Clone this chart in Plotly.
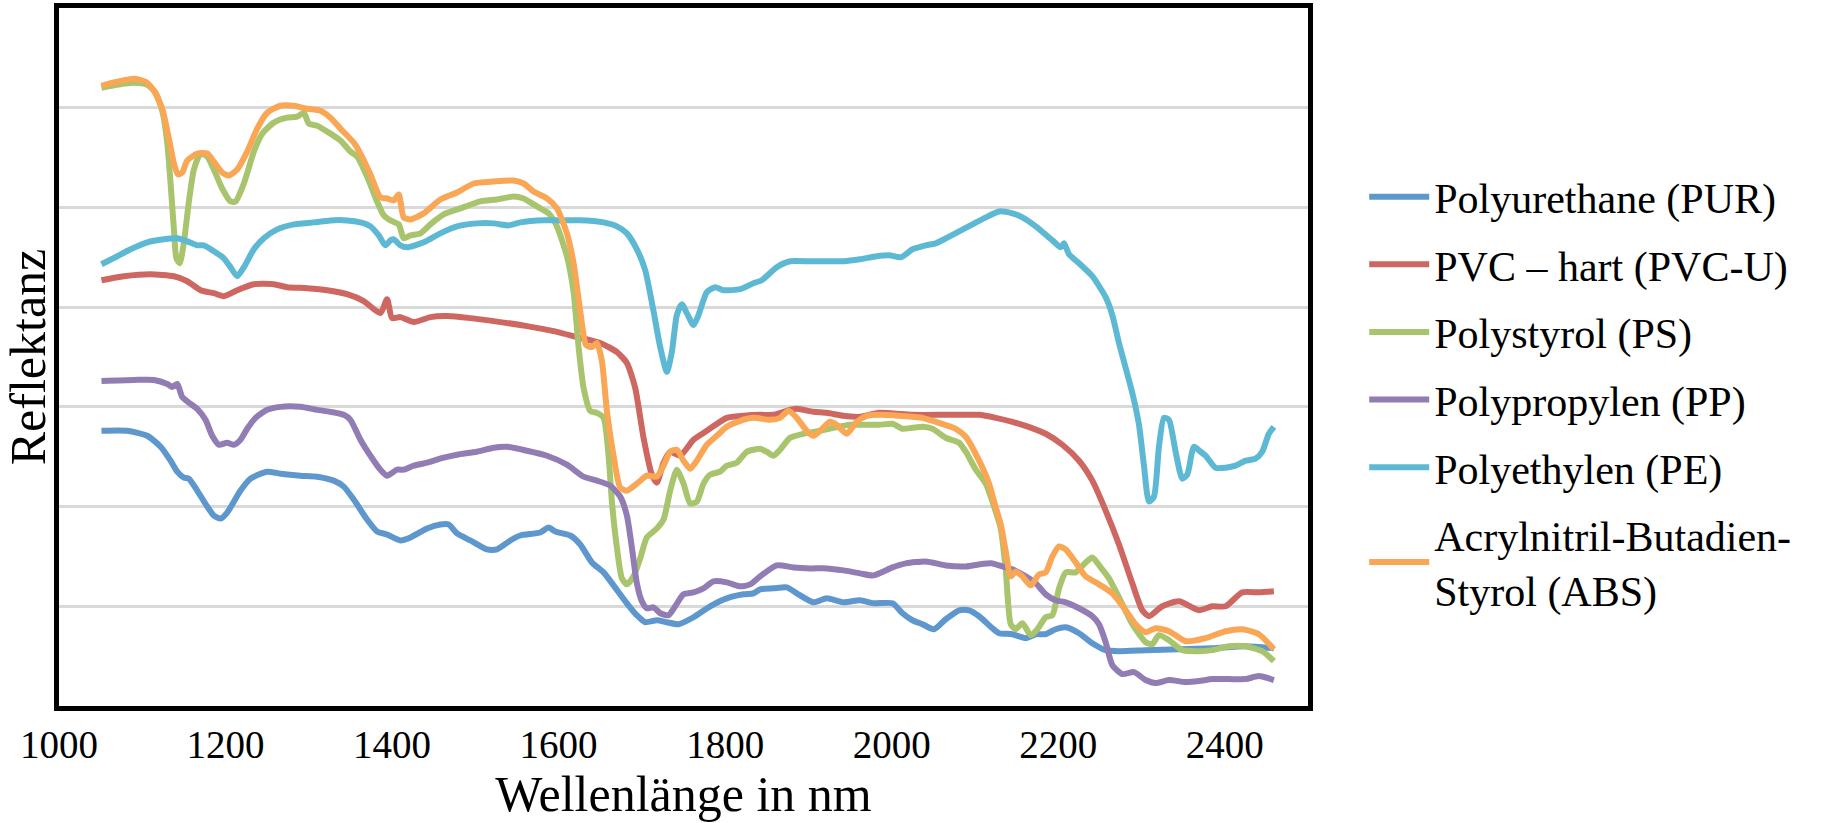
import plotly.graph_objects as go

# Wavelength (nm) and reflectance (relative units, gridline = 1)
pur_x = [1051,1082,1106,1122,1134,1142,1150,1156,1166,1178,1186,1194,1202,1218,1230,1250,1266,1290,1310,1330,1342,1354,1370,1382,1394,1410,1422,1442,1458,1468,1478,
         1494,1514,1526,1542,1554,1578,1588,1596,1614,1626,1640,1654,1666,1682,1694,1704,1718,1730,1744,1762,1782,1802,1822,1834,1842,1858,1874,1886,1906,1922,1942,1962,1978,
         2001,2013,2025,2037,2051,2065,2081,2093,2105,2121,2129,2145,2161,2173,2185,2197,2209,2225,2241,2257,2273,2305,2345,2385,2425,2459]
pur_y = [2.76,2.76,2.71,2.60,2.46,2.35,2.29,2.28,2.16,2.00,1.91,1.88,1.94,2.16,2.28,2.35,2.33,2.31,2.30,2.26,2.20,2.07,1.87,1.75,1.72,1.66,1.69,1.78,1.82,1.82,1.73,
         1.66,1.57,1.57,1.66,1.71,1.74,1.79,1.75,1.71,1.62,1.44,1.34,1.21,1.03,0.91,0.84,0.86,0.84,0.82,0.89,1.00,1.08,1.12,1.13,1.17,1.18,1.19,1.13,1.04,1.08,1.04,1.06,1.03,
         1.03,0.93,0.86,0.82,0.77,0.87,0.96,0.96,0.90,0.78,0.73,0.72,0.68,0.72,0.72,0.77,0.79,0.73,0.63,0.56,0.55,0.56,0.57,0.58,0.60,0.58]

pvc_x = [1051,1078,1110,1138,1154,1170,1186,1198,1214,1234,1258,1274,1298,1322,1346,1366,1386,1394,1400,1410,1426,1446,1466,1494,
         1522,1562,1594,1622,1650,1670,1682,1692,1702,1712,1718,1726,1734,1746,1762,1778,1802,1822,1842,1858,1874,1886,1906,1922,1942,1962,
         1985,2025,2065,2105,2125,2145,2161,2185,2205,2225,2241,2257,2273,2289,2301,2309,2325,2345,2369,2385,2401,2421,2441,2459]
pvc_y = [4.27,4.31,4.33,4.31,4.26,4.17,4.14,4.11,4.17,4.23,4.23,4.20,4.19,4.17,4.13,4.06,3.94,4.08,3.89,3.90,3.85,3.90,3.91,3.89,
         3.86,3.81,3.76,3.70,3.64,3.55,3.44,3.19,2.69,2.32,2.24,2.44,2.55,2.51,2.67,2.76,2.89,2.91,2.92,2.92,2.96,2.98,2.95,2.94,2.91,2.90,
         2.94,2.92,2.92,2.92,2.89,2.85,2.81,2.73,2.62,2.46,2.26,1.96,1.62,1.23,0.96,0.90,1.00,1.05,0.96,1.00,1.00,1.14,1.14,1.15]

ps_x = [1051,1070,1090,1106,1116,1124,1130,1134,1138,1141,1145,1150,1156,1162,1170,1178,1186,1196,1206,1212,1222,1234,1244,1258,1274,1286,1294,1300,1310,1326,1338,1350,1358,1370,1382,1390,1398,1408,1414,1422,1434,1446,1462,1482,
        1506,1526,1546,1558,1574,1588,1598,1610,1618,1624,1630,1638,1646,1654,1660,1664,1670,1676,1682,1690,1698,1706,1718,1726,1734,1742,1750,1758,1766,1774,1782,1794,1802,1814,1826,1834,1842,1850,1858,1866,1878,1894,1914,1930,1950,1970,
        1985,2001,2013,2025,2037,2049,2065,2081,2089,2101,2113,2123,2131,2137,2143,2149,2157,2167,2175,2185,2193,2201,2209,2221,2233,2241,2251,2261,2273,2289,2305,2313,2321,2333,2349,2369,2385,2405,2425,2445,2459]
ps_y = [6.20,6.23,6.25,6.23,6.15,5.97,5.65,5.24,4.78,4.49,4.44,4.65,5.06,5.38,5.54,5.51,5.38,5.19,5.06,5.06,5.24,5.56,5.74,5.85,5.90,5.91,5.95,5.84,5.82,5.74,5.67,5.56,5.51,5.31,5.06,4.92,4.87,4.83,4.69,4.72,4.74,4.83,4.93,4.99,
        5.06,5.08,5.11,5.09,5.01,4.94,4.81,4.51,4.15,3.60,3.19,2.96,2.94,2.89,2.51,2.05,1.59,1.28,1.22,1.30,1.48,1.69,1.78,1.87,2.16,2.37,2.23,2.03,2.05,2.23,2.32,2.35,2.41,2.44,2.55,2.57,2.58,2.55,2.51,2.57,2.69,2.73,2.76,2.79,2.82,2.82,
        2.82,2.83,2.78,2.79,2.80,2.78,2.69,2.64,2.55,2.37,2.23,2.00,1.78,1.37,0.82,0.77,0.83,0.71,0.77,0.89,0.91,1.18,1.34,1.34,1.44,1.49,1.39,1.28,1.09,0.82,0.64,0.62,0.71,0.66,0.56,0.55,0.56,0.60,0.60,0.55,0.45]

pp_x = [1051,1090,1114,1130,1136,1142,1148,1158,1166,1176,1184,1192,1202,1210,1218,1226,1236,1250,1266,1290,1310,1326,1342,1350,1362,1374,1386,1394,1406,1414,1426,1442,1462,1478,
        1502,1522,1538,1562,1586,1610,1630,1646,1662,1674,1682,1688,1694,1700,1706,1714,1722,1732,1740,1750,1762,1774,1786,1802,1818,1830,1842,1862,1882,1902,1922,1942,1962,1978,
        2001,2017,2041,2065,2089,2105,2121,2133,2145,2161,2173,2185,2197,2209,2225,2241,2249,2257,2265,2277,2291,2305,2317,2333,2353,2369,2385,2405,2425,2441,2459]
pp_y = [3.26,3.27,3.27,3.23,3.20,3.23,3.10,3.03,2.98,2.87,2.71,2.62,2.64,2.62,2.67,2.78,2.89,2.97,3.00,3.00,2.97,2.95,2.92,2.87,2.67,2.51,2.37,2.31,2.37,2.37,2.41,2.44,2.49,2.52,
        2.55,2.59,2.60,2.56,2.51,2.42,2.30,2.26,2.21,2.10,1.91,1.59,1.23,1.05,0.98,0.99,0.93,0.91,1.00,1.12,1.14,1.18,1.25,1.24,1.20,1.22,1.30,1.41,1.39,1.38,1.38,1.36,1.33,1.31,
        1.39,1.43,1.45,1.41,1.40,1.42,1.43,1.40,1.37,1.30,1.23,1.12,1.06,1.04,0.98,0.90,0.82,0.64,0.41,0.32,0.34,0.26,0.23,0.26,0.24,0.25,0.27,0.27,0.27,0.30,0.26]

pe_x = [1051,1070,1086,1106,1126,1142,1154,1166,1174,1186,1198,1206,1214,1222,1234,1246,1262,1282,1306,1326,1346,1362,1374,1384,1392,1398,1402,1410,1418,1438,1458,1478,
        1502,1522,1540,1554,1574,1602,1634,1654,1670,1682,1694,1704,1714,1722,1730,1736,1742,1748,1754,1762,1768,1778,1788,1798,1818,1834,1844,1862,1878,1902,1922,1942,1962,1982,
        1997,2011,2025,2041,2053,2065,2081,2097,2113,2129,2145,2157,2173,2193,2203,2207,2213,2225,2241,2257,2265,2273,2289,2297,2303,2309,2315,2321,2327,2333,2341,2349,2355,2363,2371,2377,2389,2401,2413,2425,2437,2445,2453,2459]
pe_y = [4.43,4.51,4.58,4.65,4.68,4.69,4.66,4.62,4.62,4.56,4.49,4.40,4.31,4.40,4.58,4.69,4.78,4.83,4.85,4.87,4.87,4.85,4.81,4.72,4.62,4.67,4.68,4.62,4.60,4.65,4.74,4.81,
        4.84,4.84,4.82,4.85,4.87,4.87,4.87,4.85,4.81,4.74,4.58,4.37,3.96,3.60,3.35,3.55,3.92,4.03,3.94,3.82,3.92,4.15,4.20,4.17,4.18,4.24,4.27,4.40,4.46,4.46,4.46,4.46,4.48,4.51,
        4.52,4.50,4.58,4.62,4.64,4.69,4.76,4.83,4.90,4.96,4.94,4.90,4.81,4.67,4.60,4.64,4.53,4.44,4.31,4.10,3.92,3.64,3.14,2.82,2.41,2.05,2.10,2.60,2.89,2.87,2.55,2.28,2.32,2.60,2.55,2.51,2.39,2.39,2.41,2.46,2.48,2.55,2.73,2.80]

abs_x = [1051,1070,1090,1104,1114,1124,1132,1138,1143,1148,1154,1166,1178,1186,1196,1204,1214,1226,1238,1250,1266,1282,1298,1314,1326,1338,1354,1362,1374,1386,1394,1402,1408,1414,1422,1438,1458,1478,
         1498,1522,1546,1558,1570,1586,1598,1610,1618,1626,1633,1640,1646,1652,1658,1666,1674,1682,1694,1706,1718,1726,1734,1742,1750,1758,1766,1778,1790,1802,1818,1834,1854,1866,1876,1886,1898,1906,1914,1926,1934,1946,1958,1970,1986,
         2009,2037,2053,2077,2089,2105,2117,2123,2131,2137,2143,2149,2157,2167,2177,2185,2193,2201,2209,2221,2233,2249,2265,2281,2293,2305,2317,2333,2353,2377,2401,2421,2441,2459]
abs_y = [6.22,6.26,6.29,6.26,6.17,5.99,5.69,5.44,5.33,5.35,5.47,5.54,5.54,5.46,5.35,5.32,5.38,5.56,5.79,5.95,6.02,6.02,5.99,5.97,5.90,5.79,5.65,5.54,5.33,5.10,5.09,5.07,5.13,4.90,4.88,4.94,5.08,5.15,
         5.24,5.26,5.27,5.24,5.16,5.09,4.99,4.74,4.44,3.96,3.62,3.60,3.64,3.46,2.96,2.51,2.19,2.16,2.23,2.31,2.30,2.41,2.55,2.57,2.46,2.38,2.46,2.62,2.71,2.80,2.86,2.89,2.87,2.89,2.96,2.89,2.76,2.71,2.76,2.85,2.82,2.73,2.85,2.91,2.92,
         2.91,2.89,2.85,2.78,2.70,2.46,2.23,2.05,1.82,1.55,1.30,1.35,1.30,1.21,1.32,1.34,1.50,1.60,1.57,1.44,1.30,1.22,1.13,0.96,0.82,0.74,0.78,0.75,0.65,0.68,0.75,0.77,0.72,0.57]

series_names = ["Polyurethane (PUR)", "PVC \u2013 hart (PVC-U)", "Polystyrol (PS)",
                "Polypropylen (PP)", "Polyethylen (PE)", "Acrylnitril-Butadien-<br>Styrol (ABS)"]
series_x = [pur_x, pvc_x, ps_x, pp_x, pe_x, abs_x]
series_y = [pur_y, pvc_y, ps_y, pp_y, pe_y, abs_y]
colors = ["#5E97CE", "#CE6761", "#A8C46D", "#927CB4", "#5DB9D3", "#F9A655"]

x_ticks = [1000, 1200, 1400, 1600, 1800, 2000, 2200, 2400]

fig = go.Figure()
for i, (name, xs, ys, c) in enumerate(zip(series_names, series_x, series_y, colors)):
    fig.add_trace(go.Scatter(x=xs, y=ys, mode="lines", name=name, legendgroup=f"g{i}",
                             line=dict(color=c, width=6, shape="spline", smoothing=0.6)))

FONT = "Liberation Serif"
fig.update_layout(
    width=1833, height=823,
    margin=dict(l=59, r=525, t=8, b=117),
    paper_bgcolor="white", plot_bgcolor="white",
    font=dict(family=FONT, color="black"),
    showlegend=True,
    legend=dict(x=1.045, y=0.778, xanchor="left", yanchor="top",
                font=dict(size=42, family=FONT, color="black"),
                tracegroupgap=10, itemwidth=60, bgcolor="rgba(0,0,0,0)"),
    xaxis=dict(range=[1000, 2500], tickvals=x_ticks, ticktext=[str(v) for v in x_ticks],
               showgrid=False, zeroline=False, ticks="", showline=True, linecolor="black",
               linewidth=5, mirror=True, tickfont=dict(size=39, family=FONT, color="black"),
               title=dict(text="Wellenlänge in nm", font=dict(size=50, family=FONT, color="black"), standoff=4),
               automargin=False),
    yaxis=dict(range=[0, 7], dtick=1, showgrid=True, gridcolor="#D9D9D9", gridwidth=3,
               zeroline=False, showticklabels=False, ticks="", showline=True, linecolor="black",
               linewidth=5, mirror=True,
               title=dict(text="Reflektanz", font=dict(size=50, family=FONT, color="black"), standoff=0),
               automargin=False),
)

fig.write_html("out.html", config={"displayModeBar": False},
               post_script="document.body.style.margin='0px';document.body.style.overflow='hidden';")
